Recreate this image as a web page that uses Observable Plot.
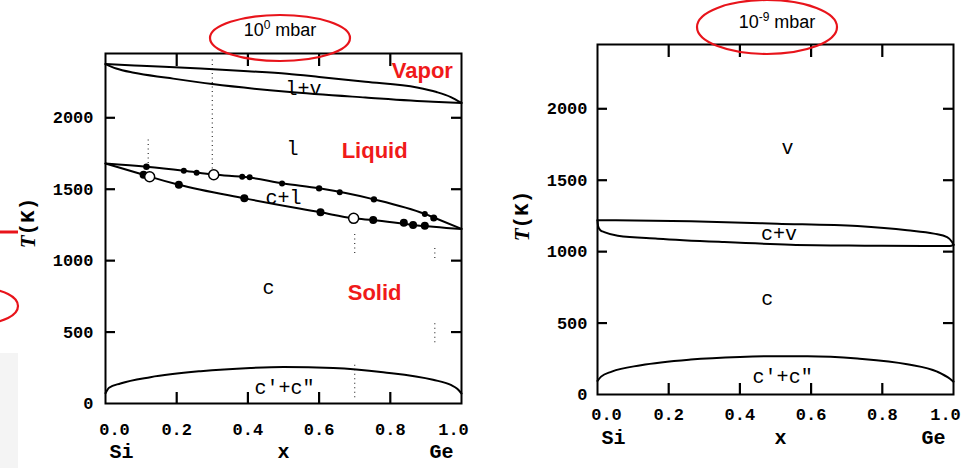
<!DOCTYPE html>
<html><head><meta charset="utf-8">
<script src="https://cdn.jsdelivr.net/npm/d3@7"></script>
<script src="https://cdn.jsdelivr.net/npm/@observablehq/plot@0.6"></script>
<style>
body{margin:0;background:#fff;}
#wrap{position:relative;width:969px;height:468px;overflow:hidden;font-family:"Liberation Sans",Arial,sans-serif;background:#fff;}
.panel{position:absolute;top:0;}
.title{position:absolute;font-size:18px;line-height:18px;color:#000;transform:translateX(-50%);white-space:nowrap;font-family:"Liberation Sans",Arial,sans-serif;}
.title sup{font-size:12px;vertical-align:top;position:relative;top:-5px;}
#deco{position:absolute;left:0;top:0;pointer-events:none;}
</style></head><body>
<div id="wrap">
  <div id="left" class="panel" style="left:0px"></div>
  <div id="right" class="panel" style="left:490px"></div>
  <div class="title" style="left:280px;top:21px">10<sup>0</sup> mbar</div>
  <div class="title" style="left:777px;top:13px">10<sup>-9</sup> mbar</div>
  <svg id="deco" width="969" height="468">
    <rect x="0" y="353" width="18" height="115" fill="#f4f4f4"></rect>
    <line x1="0" y1="232" x2="18" y2="232" stroke="#e8141b" stroke-width="3"></line>
    <ellipse cx="-16" cy="306" rx="34" ry="17" fill="none" stroke="#e8141b" stroke-width="2.2"></ellipse>
    <ellipse cx="280" cy="38" rx="70" ry="23" fill="none" stroke="#e8141b" stroke-width="2.2"></ellipse>
    <ellipse cx="767" cy="27" rx="70" ry="27" fill="none" stroke="#e8141b" stroke-width="2.2"></ellipse>
  </svg>
</div>
<script>
// ---------- shared axis values ----------
const xTickValues = [0.0, 0.2, 0.4, 0.6, 0.8, 1.0];
const yTickValues = [0, 500, 1000, 1500, 2000];
const xDomain = [0, 1];
const yDomain = [0, 2450];
const xEndLabels = ["Si", "x", "Ge"];
const xEndPositions = [0, 0.5, 1];

// ---------- left panel: 10^0 mbar ----------
const lvUpper = [[0,2376],[0.1,2364],[0.267,2345],[0.4,2326],[0.51,2308],[0.6,2286],[0.73,2252],[0.875,2212],[0.93,2180],[0.97,2145],[1,2104]];
const lvLower = [[0,2376],[0.03,2345],[0.08,2315],[0.174,2280],[0.3,2236],[0.51,2182],[0.73,2142],[0.92,2112],[1,2104]];
const liquidus = [[0,1680],[0.115,1657],[0.22,1629],[0.304,1603],[0.4,1583],[0.5,1540],[0.6,1506],[0.754,1429],[0.897,1327],[0.922,1302],[1,1222]];
const solidus = [[0,1680],[0.107,1601],[0.124,1588],[0.206,1531],[0.39,1436],[0.604,1338],[0.697,1296],[0.752,1284],[0.864,1250],[1,1222]];
const domeLeft = [[0,72],[0.01,110],[0.042,140],[0.126,184],[0.267,226],[0.407,249],[0.5,256],[0.64,249],[0.78,219],[0.92,166],[0.97,130],[0.988,103],[1,70]];
const filledLiquidusX = [0.115, 0.22, 0.256, 0.384, 0.405, 0.496, 0.60, 0.658, 0.754, 0.897, 0.922];
const filledLiquidusT = [1657, 1629, 1615, 1587, 1583, 1540, 1506, 1478, 1429, 1327, 1299];
const filledLiquidusR = [4.8, 4, 4, 4, 4, 4, 4.5, 4, 4.5, 4, 5.5];
const filledSolidusX = [0.107, 0.206, 0.39, 0.604, 0.752, 0.838, 0.864, 0.897];
const filledSolidusT = [1601, 1531, 1436, 1338, 1284, 1266, 1250, 1245];
const openX = [0.124, 0.304, 0.697];
const openT = [1587, 1601, 1296];
const dottedX = [0.12, 0.30, 0.70, 0.70, 0.925, 0.925];
const dottedT1 = [1680, 1610, 1050, 40, 1015, 425];
const dottedT2 = [1860, 2410, 1200, 280, 1085, 580];
const leftLabels = ["l+v", "l", "c+l", "c", "c\u2032+c\u2033"];
const leftLabelX = [0.556, 0.525, 0.50, 0.458, 0.503];
const leftLabelT = [2203, 1783, 1441, 811, 112];
const redLabels = ["Vapor", "Liquid", "Solid"];
const redLabelX = [0.89, 0.756, 0.756];
const redLabelT = [2329, 1769, 776];

// ---------- right panel: 10^-9 mbar ----------
const cvUpper = [[0,1220],[0.262,1212],[0.505,1196],[0.73,1179],[0.87,1150],[0.945,1126],[0.982,1102],[0.996,1067],[1,1048]];
const cvLower = [[0,1220],[0.002,1175],[0.008,1150],[0.019,1137],[0.057,1112],[0.169,1091],[0.356,1067],[0.543,1049],[0.75,1042],[0.917,1039],[0.99,1040],[1,1048]];
const domeRight = [[0,95],[0.01,125],[0.04,160],[0.122,205],[0.262,245],[0.40,263],[0.5,268],[0.59,268],[0.73,252],[0.87,212],[0.954,160],[0.99,110],[1,90]];
const rightLabels = ["v", "c+v", "c", "c\u2032+c\u2033"];
const rightLabelX = [0.534, 0.51, 0.477, 0.52];
const rightLabelT = [1729, 1126, 671, 123];

// ---------- helpers ----------
const zip = (xs, ys, extra) => xs.map((x, i) => ({x, y: ys[i], ...(extra ? {v: extra[i]} : {})}));
const mono = "'Liberation Mono', 'DejaVu Sans Mono', monospace";
const innerY = yTickValues.filter(d => d > 0);
const innerX = xTickValues.filter(d => d > 0 && d < 1);
const fmt = d3.format(".1f");

// inward tick marks: length given in pixels, converted to data units of the frame
function frameAndAxes(cfg) {
  const fw = cfg.frameW, fh = cfg.frameH;
  const [x0, x1] = xDomain, [y0, y1] = yDomain;
  const dxUnit = (x1 - x0) / fw, dyUnit = (y1 - y0) / fh;
  const yTickRows = innerY.map(v => ({v}));
  const xTickRows = innerX.map(v => ({v}));
  return [
    Plot.ruleY(yTickRows, {y: "v", x1: () => x0, x2: () => x0 + 10 * dxUnit, strokeWidth: 2.2, stroke: "black"}),
    Plot.ruleY(yTickRows, {y: "v", x1: () => x1 - 10 * dxUnit, x2: () => x1, strokeWidth: 2.2, stroke: "black"}),
    Plot.ruleX(xTickRows, {x: "v", y1: () => y0, y2: () => y0 + 11 * dyUnit, strokeWidth: 2.2, stroke: "black"}),
    Plot.ruleX(xTickRows, {x: "v", y1: () => y1 - 13 * dyUnit, y2: () => y1, strokeWidth: 2.2, stroke: "black"}),
    Plot.frame({strokeWidth: 2}),
    Plot.axisY({ticks: yTickValues, tickSize: 0, tickPadding: cfg.yPad, label: null, fontFamily: mono, fontSize: 17, fontWeight: "bold", tickFormat: d => String(d)}),
    Plot.axisX({ticks: innerX, tickSize: 0, tickPadding: cfg.xPad, label: null, fontFamily: mono, fontSize: 17, fontWeight: "bold", tickFormat: fmt}),
    Plot.axisX({ticks: [xTickValues[0]], tickSize: 0, tickPadding: cfg.xPad, label: null, dx: 9, fontFamily: mono, fontSize: 17, fontWeight: "bold", tickFormat: fmt}),
    Plot.axisX({ticks: [xTickValues[xTickValues.length - 1]], tickSize: 0, tickPadding: cfg.xPad, label: null, dx: -8, fontFamily: mono, fontSize: 17, fontWeight: "bold", tickFormat: fmt}),
    Plot.text([xEndLabels[0]], {x: () => xEndPositions[0], frameAnchor: "bottom", dy: cfg.nameDy, dx: 16, fontFamily: mono, fontSize: 20, fontWeight: "bold"}),
    Plot.text([xEndLabels[1]], {x: () => xEndPositions[1], frameAnchor: "bottom", dy: cfg.nameDy, dx: cfg.xNameDx, fontFamily: mono, fontSize: 20, fontWeight: "bold"}),
    Plot.text([xEndLabels[2]], {x: () => xEndPositions[2], frameAnchor: "bottom", dy: cfg.nameDy, dx: -20, fontFamily: mono, fontSize: 20, fontWeight: "bold"})
  ];
}

function addYLabel(svg, cx, cy) {
  const t = d3.select(svg).append("text")
    .attr("transform", `translate(${cx},${cy}) rotate(-90)`)
    .attr("text-anchor", "middle")
    .attr("dominant-baseline", "central")
    .style("font-size", "21px")
    .style("font-weight", "bold")
    .attr("fill", "black");
  t.append("tspan").style("font-family", "'Liberation Serif', serif").style("font-style", "italic").text("T");
  t.append("tspan").style("font-family", mono).text("(K)");
}

const lineOpts = {x: d => d[0], y: d => d[1], curve: "monotone-x", strokeWidth: 2, stroke: "black"};

// ---------- left plot ----------
const left = Plot.plot({
  width: 480, height: 468,
  marginLeft: 105, marginRight: 19, marginTop: 53, marginBottom: 65,
  x: {domain: xDomain}, y: {domain: yDomain},
  style: {fontFamily: mono, fontSize: "17px", background: "transparent", overflow: "visible", color: "black"},
  marks: [
    Plot.ruleX(dottedX.map((x, i) => ({x, y1: dottedT1[i], y2: dottedT2[i]})), {x: "x", y1: "y1", y2: "y2", strokeDasharray: "1,3.5", strokeWidth: 1.2, stroke: "#333"}),
    Plot.line(lvUpper, lineOpts),
    Plot.line(lvLower, lineOpts),
    Plot.line(liquidus, lineOpts),
    Plot.line(solidus, lineOpts),
    Plot.line(domeLeft, lineOpts),
    Plot.dot(zip(filledLiquidusX, filledLiquidusT, filledLiquidusR), {x: "x", y: "y", r: "v", fill: "black", stroke: null}),
    Plot.dot(zip(filledSolidusX, filledSolidusT), {x: "x", y: "y", r: 4, fill: "black", stroke: null}),
    Plot.dot(zip(openX, openT), {x: "x", y: "y", r: 5, fill: "white", stroke: "black", strokeWidth: 1.5}),
    Plot.text(zip(leftLabelX, leftLabelT, leftLabels), {x: "x", y: "y", text: "v", fontFamily: mono, fontSize: 20, fill: "black"}),
    Plot.text(zip(redLabelX, redLabelT, redLabels), {x: "x", y: "y", text: "v", fontFamily: "'Liberation Sans', Arial, sans-serif", fontWeight: "bold", fontSize: 22, fill: "#f01a1a"}),
    ...frameAndAxes({yPad: 12, xPad: 19, nameDy: 54, xNameDx: 0, frameW: 356, frameH: 350})
  ]
});
addYLabel(left, 28, 223);
document.getElementById("left").appendChild(left);

// ---------- right plot ----------
const right = Plot.plot({
  width: 479, height: 468,
  marginLeft: 107, marginRight: 16, marginTop: 44, marginBottom: 74,
  x: {domain: xDomain}, y: {domain: yDomain},
  style: {fontFamily: mono, fontSize: "17px", background: "transparent", overflow: "visible", color: "black"},
  marks: [
    Plot.line(cvUpper, lineOpts),
    Plot.line(cvLower, lineOpts),
    Plot.line(domeRight, lineOpts),
    Plot.text(zip(rightLabelX, rightLabelT, rightLabels), {x: "x", y: "y", text: "v", fontFamily: mono, fontSize: 20, fill: "black"}),
    ...frameAndAxes({yPad: 10, xPad: 13, nameDy: 49, xNameDx: 5, frameW: 356, frameH: 350})
  ]
});
addYLabel(right, 32, 216);
document.getElementById("right").appendChild(right);
</script>
</body></html>
